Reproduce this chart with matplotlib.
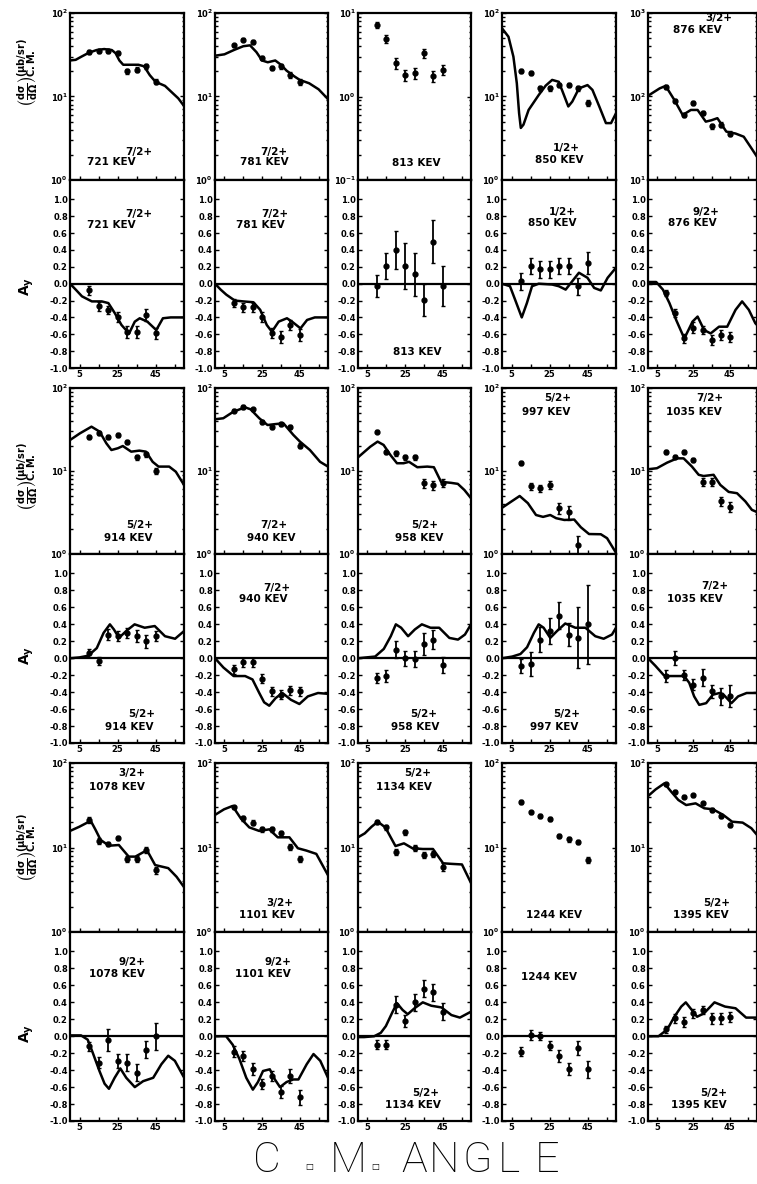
import matplotlib.pyplot as plt
from matplotlib.ticker import LogLocator, NullFormatter

plt.rcParams['font.family'] = 'DejaVu Sans'
plt.rcParams['font.weight'] = 'bold'
plt.rcParams['mathtext.default'] = 'bf'

# ========================= DATA =========================
ang = [10, 15, 20, 25, 30, 35, 40, 45]
ang7 = [10, 15, 20, 25, 30, 35, 40]

# ---- cross sections (ub/sr), relative errors, DWBA curves
cs721 = [34, 35, 35, 33, 20, 21, 23, 15]
cs721_err = [0.05, 0.05, 0.05, 0.05, 0.06, 0.06, 0.06, 0.07]
cs721_fx = [0, 3, 6, 10, 14, 18, 22, 24, 26, 28, 32, 36, 39, 42, 45, 50, 54, 57, 60]
cs721_fy = [27, 27.5, 30, 33.5, 36, 37, 36, 33, 27, 24, 24, 24, 23, 18, 15, 13.4, 11, 9.5, 7.7]

cs781 = [41, 48, 45, 29, 22, 23, 18, 15]
cs781_err = [0.05, 0.05, 0.05, 0.06, 0.06, 0.06, 0.08, 0.08]
cs781_fx = [0, 5, 10, 15, 18.6, 22, 25, 28, 32, 35, 38, 42, 45, 50, 55, 60]
cs781_fy = [30.8, 32, 36, 40, 41, 34, 27, 25.7, 27, 24, 20.4, 17.5, 15.8, 14.4, 12.2, 9.3]

cs813 = [7.2, 4.9, 2.5, 1.8, 1.9, 3.3, 1.76, 2.1]
cs813_err = [0.08, 0.1, 0.15, 0.15, 0.15, 0.12, 0.15, 0.15]

cs850 = [20.4, 19, 12.5, 12.5, 13.7, 13.7, 12.5, 8.3]
cs850_err = [0.05, 0.05, 0.06, 0.06, 0.06, 0.06, 0.06, 0.08]
cs850_fx = [0, 3.4, 6, 7.8, 9, 9.9, 11.3, 14, 19.3, 23, 26.4, 29.9, 32.6, 34.9, 37,
            40.5, 45, 47.6, 51.2, 54.7, 57.4, 60]
cs850_fy = [65.6, 52, 30, 14.4, 6.3, 4.2, 4.6, 6.9, 10.4, 13.5, 15.8, 15.0, 10.4, 7.6, 8.7,
            12.5, 13.7, 12, 7.6, 4.8, 4.8, 6.3]

cs876 = [129, 89, 60, 84, 63, 44, 46, 36]
cs876_err = [0.05, 0.05, 0.06, 0.06, 0.06, 0.07, 0.07, 0.07]
cs876_fx = [0, 6.4, 9.7, 14.5, 19.1, 23.6, 27.3, 31.8, 35, 38.2, 43.1, 48.2, 52.7, 56.4, 60]
cs876_fy = [102, 125, 134, 91, 60, 69, 69, 50, 52, 55, 38, 36, 33, 25, 19]

cs914 = [25.9, 28.9, 25.5, 27.2, 22.5, 14.6, 16.0, 10.1]
cs914_err = [0.05, 0.05, 0.05, 0.05, 0.06, 0.07, 0.07, 0.08]
cs914_fx = [0, 5.2, 11.3, 15.6, 19.1, 21.8, 25.2, 27.8, 32.2, 36.5, 40, 43.5, 46.6, 52.2, 55.7, 60]
cs914_fy = [23.6, 28.4, 34.2, 29.8, 21.6, 17.9, 18.8, 20, 17.1, 17.6, 17.1, 12.9, 11.3, 11.3, 9.8, 6.8]

cs940 = [53.4, 59.6, 55.4, 39.3, 33.6, 36.6, 34.2, 20.2]
cs940_err = [0.05, 0.05, 0.05, 0.05, 0.05, 0.05, 0.06, 0.07]
cs940_fx = [0, 4.4, 9.7, 15.9, 18.9, 23.5, 27.9, 31.4, 36.3, 41.6, 45.1, 50.4, 55.8, 60]
cs940_fy = [42, 43.2, 51.7, 58.5, 55.4, 43.2, 35.8, 36.6, 37.6, 27.2, 22.6, 17.9, 12.9, 11.3]

cs958 = [29.8, 17.1, 16.3, 14.6, 14.6, 7.1, 6.8, 7.2]
cs958_err = [0.05, 0.06, 0.06, 0.06, 0.06, 0.12, 0.12, 0.12]
cs958_fx = [0, 6.5, 10.4, 13.6, 17.2, 20.7, 24.2, 27.1, 31.5, 36.8, 40.3, 44.1, 49.4, 53, 56.5, 60]
cs958_fy = [14.6, 19.6, 22.6, 20.6, 15.6, 12.4, 12.4, 12.9, 11.1, 11.3, 11.1, 7.4, 7.2, 7.0, 5.9, 4.7]

cs997 = [12.6, 6.6, 6.2, 6.8, 3.6, 3.2, 1.28]
cs997_err = [0.06, 0.1, 0.1, 0.1, 0.15, 0.2, 0.3]
cs997_fx = [0, 5, 9.3, 13.6, 17.9, 21.6, 25.4, 28.5, 32.8, 38, 41.5, 45.8, 52, 55.3, 59.6]
cs997_fy = [3.6, 4.3, 5.0, 4.1, 2.95, 2.8, 2.95, 2.7, 2.57, 2.6, 2.1, 1.74, 1.73, 1.55, 1.07]

cs1035 = [17.1, 14.9, 17.1, 13.6, 7.4, 7.4, 4.3, 3.7]
cs1035_err = [0.05, 0.05, 0.05, 0.06, 0.12, 0.12, 0.12, 0.14]
cs1035_fx = [0, 4.9, 10.5, 16, 19.6, 24.2, 27.9, 30.6, 36.1, 39.8, 44.4, 49, 53.6, 57.2, 60]
cs1035_fy = [10.5, 10.8, 12.6, 14.2, 14.2, 11.3, 9.0, 8.7, 9.0, 6.8, 5.6, 5.4, 4.3, 3.4, 3.2]

cs1078 = [21.2, 12.0, 11.0, 12.9, 7.4, 7.4, 9.3, 5.4]
cs1078_err = [0.08, 0.08, 0.06, 0.06, 0.08, 0.08, 0.08, 0.1]
cs1078_fx = [0, 4.9, 10.9, 13.5, 16.1, 20.5, 25.7, 30.9, 34.4, 40.5, 44.8, 51.7, 56.1, 60]
cs1078_fy = [15.7, 17.6, 20.7, 16.1, 12.3, 10.5, 10.7, 7.8, 7.8, 9.3, 6.2, 5.7, 4.5, 3.4]

cs1101 = [29.9, 22.1, 19.7, 16.4, 16.4, 14.7, 10.2, 7.4]
cs1101_err = [0.05, 0.06, 0.06, 0.06, 0.06, 0.06, 0.08, 0.08]
cs1101_fx = [0, 4.8, 9.3, 13.7, 18.2, 23.5, 28.8, 33.3, 39.5, 44, 48.5, 53.8, 60]
cs1101_fy = [24.3, 28.3, 31, 22.1, 17.3, 15.7, 16.4, 13.2, 13.2, 9.8, 9.2, 8.4, 4.7]

cs1134 = [20.2, 17.3, 8.9, 15.1, 9.8, 8.1, 8.4, 5.9]
cs1134_err = [0.05, 0.06, 0.08, 0.06, 0.08, 0.08, 0.08, 0.1]
cs1134_fx = [0, 3.6, 7.2, 10.5, 14.5, 19.9, 24.4, 28.9, 34.4, 39.8, 45.2, 49.8, 55.2, 60]
cs1134_fy = [13.2, 14.7, 17.6, 20.2, 17.3, 10.4, 11.2, 9.8, 9.6, 9.6, 6.5, 6.4, 6.3, 3.8]

cs1244 = [34.8, 26.1, 23.6, 21.6, 13.7, 12.5, 11.7, 7.2]
cs1244_err = [0.05, 0.05, 0.05, 0.05, 0.06, 0.06, 0.06, 0.08]

cs1395 = [56.4, 45.7, 39.9, 41.8, 33.3, 27.8, 23.6, 18.5]
cs1395_err = [0.04, 0.04, 0.04, 0.04, 0.05, 0.05, 0.06, 0.06]
cs1395_fx = [0, 4.2, 9, 12.8, 16.7, 21, 26.2, 31, 35.8, 41.4, 46.3, 52.1, 56.9, 60]
cs1395_fy = [40.6, 48.7, 57.4, 45.7, 36.5, 31.8, 33.3, 29.1, 28.3, 24.3, 20.2, 19.7, 16.9, 14.1]

# ---- analyzing powers Ay, errors, DWBA curves
ay721 = [-0.08, -0.27, -0.31, -0.40, -0.57, -0.57, -0.37, -0.59]
ay721_err = [0.05, 0.05, 0.05, 0.06, 0.07, 0.07, 0.07, 0.07]
ay721_fx = [0, 3, 6.3, 11.5, 16.7, 20.2, 23.6, 27.1, 31.1, 34.1, 36.7, 40.7, 45.4, 48.9, 53, 60]
ay721_fy = [0, -0.07, -0.15, -0.21, -0.21, -0.23, -0.35, -0.49, -0.59, -0.45, -0.41, -0.45,
            -0.55, -0.41, -0.40, -0.40]

ay781 = [-0.23, -0.28, -0.28, -0.39, -0.59, -0.63, -0.49, -0.61]
ay781_err = [0.05, 0.05, 0.05, 0.06, 0.06, 0.07, 0.06, 0.07]
ay781_fx = [0, 3, 6, 10.5, 15, 20.4, 24, 27.5, 30.2, 33.8, 38.2, 40.9, 45.4, 48.9, 53, 60]
ay781_fy = [0, -0.07, -0.13, -0.20, -0.21, -0.22, -0.31, -0.49, -0.57, -0.45, -0.41, -0.45,
            -0.53, -0.43, -0.40, -0.40]

ay813 = [-0.03, 0.21, 0.40, 0.21, 0.11, -0.19, 0.50, -0.03]
ay813_err = [0.13, 0.16, 0.22, 0.27, 0.26, 0.19, 0.26, 0.24]

ay850 = [0.03, 0.21, 0.17, 0.17, 0.21, 0.21, -0.03, 0.25]
ay850_err = [0.1, 0.1, 0.1, 0.1, 0.1, 0.1, 0.1, 0.13]
ay850_fx = [0, 4.2, 6.9, 10.4, 13.1, 15.8, 19.3, 26.4, 29.9, 33.5, 37, 40.5, 45, 48.5, 52, 55.6, 60]
ay850_fy = [0, -0.03, -0.19, -0.40, -0.23, -0.03, 0.0, -0.01, -0.03, -0.07, 0.03, 0.13, 0.07,
            -0.05, -0.08, 0.07, 0.19]

ay876 = [-0.11, -0.35, -0.65, -0.52, -0.55, -0.67, -0.61, -0.63]
ay876_err = [0.04, 0.05, 0.05, 0.06, 0.05, 0.06, 0.06, 0.06]
ay876_fx = [0, 4.5, 8.2, 11.8, 15.5, 20, 24.5, 27.3, 30.9, 34.5, 39.1, 43.6, 48.2, 51.8, 55.5, 59.1, 60]
ay876_fy = [0.02, 0.02, -0.07, -0.23, -0.43, -0.65, -0.45, -0.39, -0.55, -0.59, -0.51, -0.51,
            -0.31, -0.21, -0.31, -0.47, -0.49]

ay914 = [0.06, -0.03, 0.28, 0.26, 0.30, 0.26, 0.20, 0.26]
ay914_err = [0.05, 0.05, 0.06, 0.06, 0.06, 0.07, 0.08, 0.06]
ay914_fx = [0, 5, 9.6, 14.1, 17.7, 21, 23.1, 25.8, 29.5, 34, 39.3, 44.6, 50, 55.3, 60]
ay914_fy = [0, 0.01, 0.03, 0.12, 0.30, 0.40, 0.34, 0.24, 0.32, 0.40, 0.36, 0.38, 0.26, 0.23, 0.32]

ay940 = [-0.13, -0.05, -0.05, -0.24, -0.39, -0.43, -0.38, -0.39]
ay940_err = [0.05, 0.05, 0.05, 0.05, 0.05, 0.05, 0.05, 0.05]
ay940_fx = [0, 4.5, 9.9, 16, 19.9, 23.5, 26.1, 28.8, 32.2, 35.8, 40.3, 44.8, 49.3, 54.7, 60]
ay940_fy = [0, -0.11, -0.21, -0.21, -0.25, -0.41, -0.52, -0.56, -0.47, -0.41, -0.49, -0.54,
            -0.45, -0.41, -0.42]

ay958 = [-0.23, -0.21, 0.10, 0.0, -0.01, 0.17, 0.22, -0.08]
ay958_err = [0.06, 0.07, 0.1, 0.09, 0.09, 0.13, 0.11, 0.09]
ay958_fx = [0, 4.5, 9.1, 13.7, 17.4, 20.1, 22.9, 26.6, 30.2, 33.9, 38.5, 43.1, 48.5, 53.1, 56.8, 60]
ay958_fy = [0, 0.01, 0.02, 0.11, 0.26, 0.40, 0.36, 0.26, 0.34, 0.40, 0.36, 0.36, 0.24, 0.22, 0.28, 0.40]

ay997 = [-0.09, -0.07, 0.22, 0.32, 0.50, 0.28, 0.24, 0.40]
ay997_err = [0.08, 0.14, 0.15, 0.15, 0.16, 0.14, 0.36, 0.47]
ay997_fx = [0, 5.4, 9.7, 13.2, 16.8, 19.3, 21.9, 25.4, 28.9, 33.3, 38.6, 43.9, 49.1, 53.5, 57.9, 60]
ay997_fy = [0, 0.02, 0.05, 0.13, 0.30, 0.40, 0.36, 0.24, 0.32, 0.41, 0.36, 0.36, 0.26, 0.23, 0.28, 0.36]

ay1035 = [-0.21, 0.0, -0.20, -0.31, -0.23, -0.39, -0.45, -0.45]
ay1035_err = [0.07, 0.08, 0.06, 0.07, 0.1, 0.08, 0.1, 0.13]
ay1035_fx = [0, 4.1, 8.7, 11.5, 19.9, 22.7, 25.4, 28.2, 32, 35.7, 39.4, 41.2, 45.9, 49.6, 54.3, 60]
ay1035_fy = [0, -0.09, -0.20, -0.21, -0.21, -0.29, -0.45, -0.55, -0.53, -0.43, -0.41, -0.42,
             -0.53, -0.45, -0.41, -0.41]

ay1078 = [-0.12, -0.31, -0.04, -0.29, -0.31, -0.43, -0.16, 0.0]
ay1078_err = [0.05, 0.07, 0.13, 0.08, 0.1, 0.1, 0.1, 0.16]
ay1078_fx = [0, 5.8, 9.3, 11.9, 15.5, 18.2, 20.5, 23.5, 26.5, 29.6, 34.1, 38.5, 43.8, 48.1,
             51.7, 55.2, 59.6]
ay1078_fy = [0.01, 0.01, -0.04, -0.19, -0.41, -0.56, -0.62, -0.49, -0.38, -0.49, -0.60, -0.53,
             -0.49, -0.33, -0.23, -0.29, -0.47]

ay1101 = [-0.18, -0.23, -0.39, -0.56, -0.47, -0.66, -0.47, -0.72]
ay1101_err = [0.06, 0.06, 0.07, 0.06, 0.06, 0.07, 0.08, 0.09]
ay1101_fx = [0, 5.9, 9.4, 13, 16.6, 20.1, 22.8, 25.5, 29.1, 31.8, 34.5, 38, 41.6, 44.3, 48.7,
             52.3, 55.9, 60]
ay1101_fy = [0, 0, -0.10, -0.27, -0.49, -0.63, -0.54, -0.41, -0.39, -0.51, -0.60, -0.54, -0.51,
             -0.51, -0.33, -0.21, -0.29, -0.49]

ay1134 = [-0.10, -0.10, 0.37, 0.18, 0.40, 0.56, 0.52, 0.29]
ay1134_err = [0.05, 0.05, 0.1, 0.07, 0.1, 0.1, 0.1, 0.1]
ay1134_fx = [0, 3.2, 8.6, 12.1, 14.8, 18.4, 20.7, 23.7, 26.4, 30, 34.4, 38.9, 44.3, 49.6, 54.1, 60]
ay1134_fy = [-0.01, -0.01, 0, 0.04, 0.12, 0.29, 0.39, 0.31, 0.26, 0.33, 0.40, 0.36, 0.34, 0.25,
             0.22, 0.29]

ay1244 = [-0.18, 0.01, 0.0, -0.11, -0.23, -0.39, -0.14, -0.39]
ay1244_err = [0.05, 0.06, 0.05, 0.05, 0.07, 0.07, 0.08, 0.1]

ay1395 = [0.08, 0.21, 0.17, 0.27, 0.31, 0.21, 0.21, 0.23]
ay1395_err = [0.04, 0.05, 0.06, 0.05, 0.05, 0.06, 0.06, 0.06]
ay1395_fx = [0, 5.8, 10.6, 14.5, 18.3, 20.8, 24.1, 27, 30.8, 36.6, 42.4, 48.2, 54, 60]
ay1395_fy = [0, 0, 0.08, 0.23, 0.35, 0.40, 0.31, 0.23, 0.27, 0.40, 0.35, 0.33, 0.22, 0.22]

# ========================= LAYOUT =========================
W, H = 757, 1184
col_left = [70, 215, 358, 502, 648]
col_w = [114, 113, 113, 114, 109]
row_top = [13, 180, 388, 554, 763, 932]
row_bot = [180, 368, 554, 743, 932, 1121]

# (row, col, kind, angles, values, errors, fit x, fit y, ylim, energy, spin, energy pos, spin pos)
panels = [
    (0, 0, 'cs', ang, cs721, cs721_err, cs721_fx, cs721_fy, (1, 100), '721 KEV', '7/2+', (0.365, 0.11), (0.60, 0.17)),
    (0, 1, 'cs', ang, cs781, cs781_err, cs781_fx, cs781_fy, (1, 100), '781 KEV', '7/2+', (0.44, 0.11), (0.52, 0.17)),
    (0, 2, 'cs', ang, cs813, cs813_err, None, None, (0.1, 10), '813 KEV', None, (0.515, 0.10), None),
    (0, 3, 'cs', ang, cs850, cs850_err, cs850_fx, cs850_fy, (1, 100), '850 KEV', '1/2+', (0.50, 0.12), (0.56, 0.19)),
    (0, 4, 'cs', ang, cs876, cs876_err, cs876_fx, cs876_fy, (10, 1000), '876 KEV', '3/2+', (0.45, 0.90), (0.65, 0.97)),
    (1, 0, 'ay', ang, ay721, ay721_err, ay721_fx, ay721_fy, None, '721 KEV', '7/2+', (0.365, 0.76), (0.60, 0.82)),
    (1, 1, 'ay', ang, ay781, ay781_err, ay781_fx, ay781_fy, None, '781 KEV', '7/2+', (0.40, 0.76), (0.53, 0.82)),
    (1, 2, 'ay', ang, ay813, ay813_err, None, None, None, '813 KEV', None, (0.52, 0.087), None),
    (1, 3, 'ay', ang, ay850, ay850_err, ay850_fx, ay850_fy, None, '850 KEV', '1/2+', (0.44, 0.77), (0.53, 0.83)),
    (1, 4, 'ay', ang, ay876, ay876_err, ay876_fx, ay876_fy, None, '876 KEV', '9/2+', (0.41, 0.77), (0.53, 0.83)),
    (2, 0, 'cs', ang, cs914, cs914_err, cs914_fx, cs914_fy, (1, 100), '914 KEV', '5/2+', (0.51, 0.095), (0.61, 0.175)),
    (2, 1, 'cs', ang, cs940, cs940_err, cs940_fx, cs940_fy, (1, 100), '940 KEV', '7/2+', (0.50, 0.095), (0.52, 0.175)),
    (2, 2, 'cs', ang, cs958, cs958_err, cs958_fx, cs958_fy, (1, 100), '958 KEV', '5/2+', (0.54, 0.095), (0.59, 0.175)),
    (2, 3, 'cs', ang7, cs997, cs997_err, cs997_fx, cs997_fy, (1, 100), '997 KEV', '5/2+', (0.39, 0.857), (0.49, 0.94)),
    (2, 4, 'cs', ang, cs1035, cs1035_err, cs1035_fx, cs1035_fy, (1, 100), '1035 KEV', '7/2+', (0.42, 0.857), (0.57, 0.94)),
    (3, 0, 'ay', ang, ay914, ay914_err, ay914_fx, ay914_fy, None, '914 KEV', '5/2+', (0.52, 0.086), (0.63, 0.153)),
    (3, 1, 'ay', ang, ay940, ay940_err, ay940_fx, ay940_fy, None, '940 KEV', '7/2+', (0.43, 0.76), (0.55, 0.82)),
    (3, 2, 'ay', ang, ay958, ay958_err, ay958_fx, ay958_fy, None, '958 KEV', '5/2+', (0.51, 0.086), (0.58, 0.153)),
    (3, 3, 'ay', ang, ay997, ay997_err, ay997_fx, ay997_fy, None, '997 KEV', '5/2+', (0.46, 0.086), (0.57, 0.153)),
    (3, 4, 'ay', ang, ay1035, ay1035_err, ay1035_fx, ay1035_fy, None, '1035 KEV', '7/2+', (0.43, 0.76), (0.61, 0.83)),
    (4, 0, 'cs', ang, cs1078, cs1078_err, cs1078_fx, cs1078_fy, (1, 100), '1078 KEV', '3/2+', (0.41, 0.86), (0.545, 0.94)),
    (4, 1, 'cs', ang, cs1101, cs1101_err, cs1101_fx, cs1101_fy, (1, 100), '1101 KEV', '3/2+', (0.455, 0.10), (0.57, 0.17)),
    (4, 2, 'cs', ang, cs1134, cs1134_err, cs1134_fx, cs1134_fy, (1, 100), '1134 KEV', '5/2+', (0.41, 0.86), (0.53, 0.94)),
    (4, 3, 'cs', ang, cs1244, cs1244_err, None, None, (1, 100), '1244 KEV', None, (0.46, 0.10), None),
    (4, 4, 'cs', ang, cs1395, cs1395_err, cs1395_fx, cs1395_fy, (1, 100), '1395 KEV', '5/2+', (0.48, 0.10), (0.63, 0.17)),
    (5, 0, 'ay', ang, ay1078, ay1078_err, ay1078_fx, ay1078_fy, None, '1078 KEV', '9/2+', (0.41, 0.78), (0.54, 0.84)),
    (5, 1, 'ay', ang, ay1101, ay1101_err, ay1101_fx, ay1101_fy, None, '1101 KEV', '9/2+', (0.42, 0.78), (0.56, 0.84)),
    (5, 2, 'ay', ang, ay1134, ay1134_err, ay1134_fx, ay1134_fy, None, '1134 KEV', '5/2+', (0.485, 0.085), (0.60, 0.15)),
    (5, 3, 'ay', ang, ay1244, ay1244_err, None, None, None, '1244 KEV', None, (0.41, 0.76), None),
    (5, 4, 'ay', ang, ay1395, ay1395_err, ay1395_fx, ay1395_fy, None, '1395 KEV', '5/2+', (0.47, 0.085), (0.60, 0.15)),
]

ay_ticks = [-1.0, -0.8, -0.6, -0.4, -0.2, 0.0, 0.2, 0.4, 0.6, 0.8, 1.0]

# ========================= PLOT =========================
fig = plt.figure(figsize=(W / 100, H / 100), dpi=100)

for (r, c, kind, x, y, err, fx, fy, ylim, energy, spin, epos, spos) in panels:
    l = col_left[c] / W
    b = 1 - row_bot[r] / H
    ax = fig.add_axes([l, b, col_w[c] / W, (row_bot[r] - row_top[r]) / H])
    ax.set_xlim(0, 60)
    if kind == 'cs':
        ax.set_yscale('log')
        ax.set_ylim(*ylim)
        ax.yaxis.set_major_locator(LogLocator(base=10, numticks=5))
        ax.yaxis.set_minor_locator(LogLocator(base=10, subs=range(2, 10), numticks=20))
        ax.yaxis.set_minor_formatter(NullFormatter())
        yerr = [v * e for v, e in zip(y, err)]
    else:
        ax.set_ylim(-1.0, 1.23)
        ax.set_yticks(ay_ticks)
        ax.set_yticklabels(['%.1f' % t for t in ay_ticks])
        ax.axhline(0, color='k', lw=1.6)
        yerr = err
    if fx is not None:
        ax.plot(fx, fy, 'k-', lw=1.8)
    ax.errorbar(x, y, yerr=yerr, fmt='o', color='k', ms=3.5,
                elinewidth=1.3, capsize=1.5, capthick=1.0)

    ax.set_xticks([5, 15, 25, 35, 45, 55])
    ax.set_xticklabels(['5', '', '25', '', '45', ''])
    ax.tick_params(which='both', direction='in', right=True, labelsize=6, pad=1.5, width=1.0)
    ax.tick_params(which='major', length=3)
    ax.tick_params(which='minor', length=1.8)
    for sp in ax.spines.values():
        sp.set_linewidth(1.6)

    ax.text(epos[0], epos[1], energy, transform=ax.transAxes, ha='center', va='center',
            fontsize=7.5, fontweight='bold')
    if spin:
        ax.text(spos[0], spos[1], spin, transform=ax.transAxes, ha='center', va='center',
                fontsize=7.5, fontweight='bold')

# row labels
cs_label = r'$\left(\frac{d\sigma}{d\Omega}\right)_{\rm C.M.}^{(\mu b/sr)}$'
for yc in [72, 476, 847]:
    fig.text(28 / W, 1 - yc / H, cs_label, rotation=90, ha='center', va='center', fontsize=10)
for yc in [286, 655, 1033]:
    fig.text(27 / W, 1 - yc / H, r'$A_y$', rotation=90, ha='center', va='center', fontsize=10)

# bottom axis title
for ch, xc in [('C', 267), ('M', 348), ('A', 414), ('N', 444), ('G', 477), ('L', 509), ('E', 547)]:
    fig.text(xc / W, 1 - 1160 / H, ch, ha='center', va='center', fontsize=31,
             fontfamily='Roboto', fontweight='light')
for xc in [309, 375]:
    fig.text(xc / W, 1 - 1166 / H, '\u25a1', ha='center', va='center', fontsize=6,
             fontfamily='DejaVu Sans')

plt.savefig('out.png', dpi=100)
